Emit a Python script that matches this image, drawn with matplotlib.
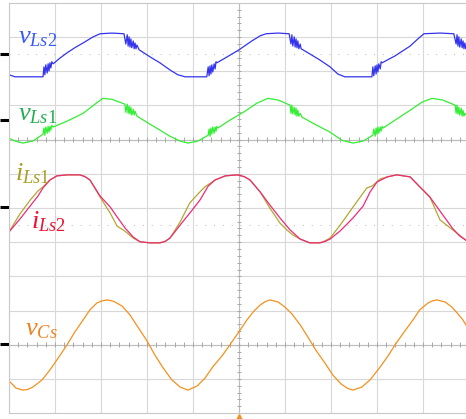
import numpy as np
import matplotlib
matplotlib.use('agg')
import matplotlib.pyplot as plt

plt.rcParams['mathtext.fontset'] = 'custom'
plt.rcParams['mathtext.rm'] = 'Liberation Serif'
plt.rcParams['mathtext.it'] = 'Liberation Serif:italic'

# time in screen divisions, amplitude in divisions from each channel marker
t_vls2 = [0.00, 0.13, 0.74, 0.76, 0.78, 0.80, 0.83, 0.85, 0.87, 0.89, 0.91, 0.93, 0.96,
          1.11, 1.26, 1.43, 1.61, 1.83, 1.98, 2.24, 2.50,
          2.54, 2.57, 2.59, 2.61, 2.63, 2.65, 2.67, 2.70, 2.72, 2.74, 2.76, 2.78, 2.83,
          3.07, 3.28, 3.50, 3.67, 3.83, 4.30,
          4.33, 4.35, 4.37, 4.39, 4.41, 4.43, 4.46, 4.48, 4.50, 4.52,
          4.70, 5.00, 5.28, 5.46, 5.59, 5.85, 6.09,
          6.13, 6.15, 6.17, 6.20, 6.22, 6.24, 6.26, 6.28, 6.30, 6.33, 6.35, 6.39,
          6.54, 6.76, 6.98, 7.15, 7.30, 7.89,
          7.91, 7.93, 7.96, 7.98, 8.00, 8.02, 8.04, 8.07, 8.09, 8.11,
          8.39, 8.72, 8.89, 9.02, 9.37, 9.67,
          9.72, 9.74, 9.76, 9.78, 9.80, 9.83, 9.85, 9.87, 9.89, 9.91, 9.93, 10.00]
v_vls2 = [-0.61, -0.67, -0.67, -0.38, -0.61, -0.32, -0.56, -0.29, -0.50, -0.26, -0.41, -0.23, -0.29,
          -0.12, 0.03, 0.18, 0.32, 0.50, 0.59, 0.61, 0.59,
          0.29, 0.56, 0.23, 0.50, 0.20, 0.44, 0.18, 0.38, 0.15, 0.32, 0.15, 0.26, 0.12,
          -0.09, -0.26, -0.47, -0.61, -0.67, -0.67,
          -0.38, -0.64, -0.35, -0.59, -0.32, -0.53, -0.29, -0.44, -0.23, -0.26,
          -0.12, 0.12, 0.38, 0.53, 0.59, 0.61, 0.59,
          0.29, 0.56, 0.23, 0.50, 0.20, 0.44, 0.18, 0.38, 0.15, 0.29, 0.15, 0.12,
          0.00, -0.18, -0.38, -0.59, -0.67, -0.67,
          -0.38, -0.64, -0.35, -0.59, -0.32, -0.53, -0.29, -0.44, -0.23, -0.26,
          -0.06, 0.23, 0.44, 0.59, 0.61, 0.59,
          0.29, 0.56, 0.23, 0.50, 0.20, 0.44, 0.18, 0.38, 0.15, 0.32, 0.15, 0.12]

t_vls1 = [0.00, 0.13, 0.30, 0.52, 0.74, 0.76, 0.78, 0.80, 0.83, 0.85, 0.87, 0.89, 0.91, 0.93, 0.96,
          1.26, 1.61, 1.87, 2.04, 2.24, 2.52,
          2.54, 2.57, 2.59, 2.61, 2.63, 2.65, 2.67, 2.70, 2.72, 2.74, 2.78,
          3.07, 3.28, 3.50, 3.72, 3.89, 4.11, 4.33,
          4.35, 4.37, 4.39, 4.41, 4.43, 4.46, 4.48, 4.50, 4.52, 4.54,
          4.80, 5.13, 5.39, 5.63, 5.85, 6.11,
          6.13, 6.15, 6.17, 6.20, 6.22, 6.24, 6.26, 6.28, 6.30, 6.33, 6.37,
          6.65, 6.98, 7.24, 7.48, 7.70, 7.91,
          7.93, 7.96, 7.98, 8.00, 8.02, 8.04, 8.07, 8.09, 8.11, 8.13,
          8.39, 8.72, 8.98, 9.20, 9.43, 9.70,
          9.72, 9.74, 9.76, 9.78, 9.80, 9.83, 9.85, 9.87, 9.89, 9.91, 10.00]
v_vls1 = [-0.53, -0.61, -0.67, -0.61, -0.41, -0.23, -0.44, -0.20, -0.38, -0.18, -0.35, -0.18, -0.29, -0.15, -0.20,
          -0.03, 0.20, 0.47, 0.64, 0.61, 0.47,
          0.23, 0.47, 0.20, 0.41, 0.18, 0.38, 0.15, 0.32, 0.15, 0.26, 0.12,
          -0.12, -0.29, -0.47, -0.61, -0.67, -0.61, -0.44,
          -0.26, -0.47, -0.23, -0.41, -0.20, -0.38, -0.20, -0.32, -0.18, -0.23,
          0.00, 0.26, 0.50, 0.64, 0.59, 0.44,
          0.20, 0.44, 0.18, 0.38, 0.15, 0.35, 0.12, 0.29, 0.12, 0.20, 0.09,
          -0.12, -0.35, -0.59, -0.67, -0.61, -0.44,
          -0.26, -0.47, -0.23, -0.41, -0.20, -0.38, -0.20, -0.32, -0.18, -0.23,
          0.00, 0.29, 0.53, 0.64, 0.59, 0.44,
          0.20, 0.44, 0.18, 0.38, 0.15, 0.35, 0.12, 0.29, 0.12, 0.20, 0.06]

t_ils2 = [0.00, 0.24, 0.46, 0.63, 0.74, 0.89, 1.04, 1.26, 1.54, 1.65, 1.76, 1.98, 2.20, 2.35, 2.52,
          2.70, 2.85, 3.07, 3.28, 3.39, 3.50, 3.72, 3.93, 4.15, 4.33, 4.48, 4.70, 4.96, 5.11, 5.24, 5.46,
          5.67, 5.89, 6.11, 6.33, 6.54, 6.76, 6.87, 6.98, 7.20, 7.48, 7.70, 7.85, 8.00, 8.22, 8.43,
          8.72, 8.93, 9.15, 9.37, 9.65, 9.80, 9.93, 10.00]
i_ils2 = [-0.73, -0.35, 0.03, 0.32, 0.56, 0.79, 0.91, 0.94, 0.94, 0.89, 0.79, 0.32, 0.00, -0.29, -0.61,
          -0.88, -1.02, -1.05, -1.05, -1.01, -0.91, -0.53, -0.18, 0.20, 0.61, 0.79, 0.91, 0.94, 0.89, 0.79, 0.44,
          0.06, -0.32, -0.67, -0.94, -1.05, -1.05, -1.01, -0.94, -0.70, -0.32, 0.03, 0.44, 0.73, 0.88, 0.94,
          0.88, 0.59, 0.29, -0.12, -0.64, -0.85, -0.97, -1.02]

t_ils1 = [0.00, 0.24, 0.46, 0.63, 0.74, 0.89, 1.04, 1.26, 1.54, 1.65, 1.76, 1.98, 2.20, 2.35, 2.48,
          2.57, 2.70, 2.85, 3.07, 3.28, 3.39, 3.50, 3.72, 3.93, 4.15, 4.26, 4.48, 4.70, 4.96, 5.11, 5.24,
          5.46, 5.67, 5.89, 6.04, 6.17, 6.33, 6.54, 6.76, 6.87, 6.98, 7.20, 7.48, 7.78, 7.89, 8.07,
          8.22, 8.43, 8.72, 8.93, 9.15, 9.37, 9.59, 9.76, 9.93, 10.00]
i_ils1 = [-0.73, -0.20, 0.20, 0.47, 0.59, 0.79, 0.91, 0.94, 0.94, 0.89, 0.79, 0.29, -0.18, -0.56, -0.67,
          -0.76, -0.91, -1.02, -1.05, -1.05, -1.01, -0.91, -0.44, 0.12, 0.44, 0.59, 0.79, 0.91, 0.94, 0.89, 0.79,
          0.44, -0.03, -0.47, -0.67, -0.82, -0.94, -1.05, -1.05, -0.99, -0.91, -0.53, 0.00, 0.56, 0.61, 0.82,
          0.88, 0.94, 0.88, 0.59, 0.29, -0.38, -0.61, -0.79, -0.97, -1.02]

t_vcs = [0.00, 0.15, 0.30, 0.41, 0.52, 0.72, 0.89, 1.07, 1.26, 1.43, 1.61, 1.76, 1.91, 2.02, 2.13, 2.22, 2.30,
         2.46, 2.63, 2.80, 3.00, 3.17, 3.35, 3.54, 3.72, 3.89, 4.09, 4.26, 4.43, 4.63, 4.80,
         4.98, 5.17, 5.33, 5.46, 5.57, 5.67, 5.85, 6.00, 6.15, 6.33, 6.50, 6.67, 6.87, 7.04, 7.22,
         7.36, 7.48, 7.67, 7.85, 8.07, 8.24, 8.39, 8.59, 8.78, 8.93, 9.11, 9.20, 9.30, 9.48, 9.63, 9.76,
         9.87, 10.00]
v_vcs = [-1.08, -1.29, -1.35, -1.33, -1.26, -1.05, -0.76, -0.41, -0.03, 0.35, 0.70, 1.00, 1.20, 1.26, 1.29, 1.27, 1.23,
         1.11, 0.85, 0.50, 0.09, -0.32, -0.70, -1.05, -1.26, -1.35, -1.23, -1.00, -0.67, -0.35, -0.03,
         0.32, 0.70, 0.97, 1.14, 1.24, 1.29, 1.23, 1.08, 0.88, 0.56, 0.20, -0.18, -0.56, -0.91, -1.17,
         -1.30, -1.35, -1.26, -1.05, -0.67, -0.35, -0.03, 0.35, 0.70, 1.00, 1.20, 1.26, 1.29, 1.23, 1.08, 0.88,
         0.70, 0.41]

# channel zero markers (divisions from bottom of screen)
ref_levels = [10.51, 8.57, 6.03, 2.02]

fig = plt.figure(figsize=(4.66, 4.19), dpi=100)
ax = fig.add_axes([9/466, 6/419, 460/466, 410/419])
ax.set_xlim(0, 10)
ax.set_ylim(0, 12)
ax.set_xticks([])
ax.set_yticks([])
for s in ax.spines.values():
    s.set_color('#c8c8c8')
    s.set_linewidth(0.8)

# graticule
grid_c = '#d8d8d8'
for x in range(1, 10):
    ax.axvline(x, color=grid_c, lw=0.8, zorder=0)
for y in range(1, 12):
    ax.axhline(y, color=grid_c, lw=0.8, zorder=0)
for y in [10.5, 5.5]:
    ax.axhline(y, color='#c4c4c4', lw=0.8, ls=(0, (1, 7)), zorder=0)
ax.axvline(5, color='#bdbdbd', lw=0.8, zorder=0)
for y in [8, 2]:
    ax.axhline(y, color='#bdbdbd', lw=0.8, zorder=0)
minor_x = np.arange(0.2, 10, 0.2)
minor_y = np.arange(0.2, 12, 0.2)
for y in [8, 2]:
    ax.vlines(minor_x, y - 0.07, y + 0.07, color='#a8a8a8', lw=0.7, zorder=0)
ax.hlines(minor_y, 5 - 0.05, 5 + 0.05, color='#a8a8a8', lw=0.7, zorder=0)

lw = 0.9
ax.plot(t_vls2, np.array(v_vls2) + ref_levels[0], color='#3333ee', lw=lw)
ax.plot(t_vls1, np.array(v_vls1) + ref_levels[1], color='#33ee33', lw=lw)
ax.plot(t_ils1, np.array(i_ils1) + ref_levels[2], color='#b0a830', lw=lw)
ax.plot(t_ils2, np.array(i_ils2) + ref_levels[2], color='#ee2a78', lw=lw)
ax.plot(t_vcs, np.array(v_vcs) + ref_levels[3], color='#f5901e', lw=lw)

# channel markers on the left edge
for r in ref_levels:
    ax.plot([-0.2, 0], [r, r], color='black', lw=2.2, clip_on=False, solid_capstyle='butt')
# trigger marker
ax.plot([5], [-0.12], marker='^', color='#f5901e', ms=5, clip_on=False)

fs = 19
ax.text(0.2, 10.83, r'$\mathit{v}_{\mathit{Ls2}}$', color='#3a5cf5', fontsize=fs, va='baseline')
ax.text(0.2, 8.57, r'$\mathit{v}_{\mathit{Ls1}}$', color='#20b050', fontsize=fs, va='baseline')
ax.text(0.13, 6.82, r'$\mathit{i}_{\mathit{Ls1}}$', color='#a8a020', fontsize=fs, va='baseline')
ax.text(0.48, 5.41, r'$\mathit{i}_{\mathit{Ls2}}$', color='#ee1030', fontsize=fs, va='baseline')
ax.text(0.35, 2.28, r'$\mathit{v}_{\mathit{Cs}}$', color='#f08020', fontsize=fs, va='baseline')

fig.savefig('out.png', dpi=100)
